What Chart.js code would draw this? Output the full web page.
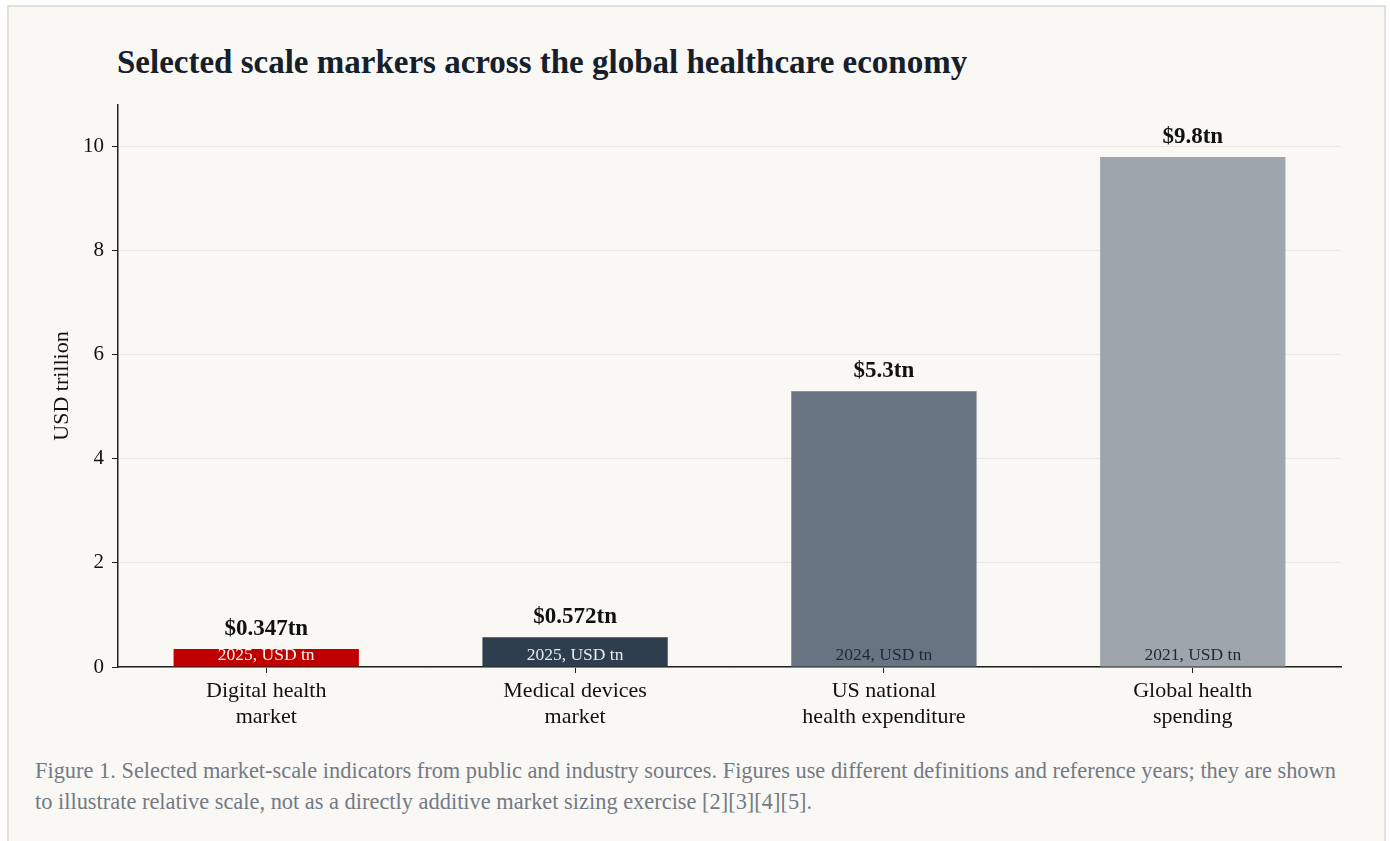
<!DOCTYPE html>
<html>
<head>
<meta charset="utf-8">
<script src="https://cdn.jsdelivr.net/npm/chart.js@4"></script>
<style>
  body { margin: 0; background: #ffffff; font-family: "Liberation Serif", serif; }
  .card {
    position: absolute; left: 7px; top: 5px; width: 1375px; height: 860px;
    border: 2px solid #e4e1dc; background: #f9f8f5;
  }
  h1 {
    position: absolute; left: 108px; top: 37px; margin: 0;
    font-size: 33px; font-weight: bold; color: #16202b; white-space: nowrap;
  }
  .wrap { position: absolute; left: 0; top: 0; width: 1376px; height: 740px; }
  .caption {
    position: absolute; left: 26px; top: 748px; width: 1322px; margin: 0;
    font-size: 22.4px; line-height: 31px; color: #737a84;
  }
</style>
</head>
<body>
<div class="card">
  <h1>Selected scale markers across the global healthcare economy</h1>
  <div class="wrap"><canvas id="myChart"></canvas></div>
  <p class="caption">Figure 1. Selected market-scale indicators from public and industry sources. Figures use different definitions and reference years; they are shown to illustrate relative scale, not as a directly additive market sizing exercise [2][3][4][5].</p>
</div>
<script>
const categories = [["Digital health", "market"], ["Medical devices", "market"], ["US national", "health expenditure"], ["Global health", "spending"]];
const values = [0.347, 0.572, 5.3, 9.8];
const valueLabels = ["$0.347tn", "$0.572tn", "$5.3tn", "$9.8tn"];
const noteLabels = ["2025, USD tn", "2025, USD tn", "2024, USD tn", "2021, USD tn"];
const yTicks = [0, 2, 4, 6, 8, 10];
const barColors = ["#c00000", "#2e3e4f", "#687482", "#9ea5ad"];
const noteColors = ["#f4f4f4", "#e8ebee", "#1f2933", "#1f2933"];

const serif = "'Liberation Serif', serif";

// value on top of each bar, year note at its foot
const barText = {
  id: "barText",
  afterDatasetsDraw(chart) {
    const ctx = chart.ctx;
    const meta = chart.getDatasetMeta(0);
    const zero = chart.scales.y.getPixelForValue(0);
    ctx.save();
    ctx.textAlign = "center";
    ctx.textBaseline = "middle";
    meta.data.forEach((bar, i) => {
      ctx.font = "bold 23px " + serif;
      ctx.fillStyle = "#111111";
      ctx.fillText(valueLabels[i], bar.x, bar.y - 20);
      ctx.font = "17.5px " + serif;
      ctx.fillStyle = noteColors[i];
      ctx.fillText(noteLabels[i], bar.x, zero - 12);
    });
    ctx.restore();
  }
};

const ctx = document.getElementById("myChart").getContext("2d");
new Chart(ctx, {
  type: "bar",
  data: {
    datasets: [{
      data: values.map((v, i) => ({ x: i, y: v })),
      backgroundColor: barColors,
      barPercentage: 0.6,
      categoryPercentage: 1.0
    }]
  },
  options: {
    responsive: true,
    maintainAspectRatio: false,
    animation: false,
    layout: { padding: { left: 40, right: 44, top: 98, bottom: 0 } },
    plugins: {
      legend: { display: false },
      tooltip: { enabled: false }
    },
    scales: {
      x: {
        type: "linear",
        offset: false,
        min: -0.48,
        max: 3.48,
        afterFit: (s) => { s.height = 80; },
        afterBuildTicks: (s) => { s.ticks = categories.map((c, i) => ({ value: i })); },
        grid: { offset: false, drawOnChartArea: false, tickColor: "#222", tickLength: 6 },
        border: { color: "#222", width: 1.5 },
        ticks: {
          color: "#111", font: { family: serif, size: 22 }, padding: 5,
          callback: (v) => categories[v]
        }
      },
      y: {
        min: 0,
        max: 10.8,
        afterFit: (s) => { s.width = 69; },
        afterBuildTicks: (s) => { s.ticks = yTicks.map(v => ({ value: v })); },
        grid: { color: "#e9e7e3", tickColor: "#222", tickLength: 6 },
        border: { color: "#222", width: 1.5 },
        ticks: { color: "#111", font: { family: serif, size: 21 }, padding: 8 },
        title: { display: true, text: "USD trillion", color: "#111", font: { family: serif, size: 22 }, padding: 0 }
      }
    }
  },
  plugins: [barText]
});
</script>
</body>
</html>
